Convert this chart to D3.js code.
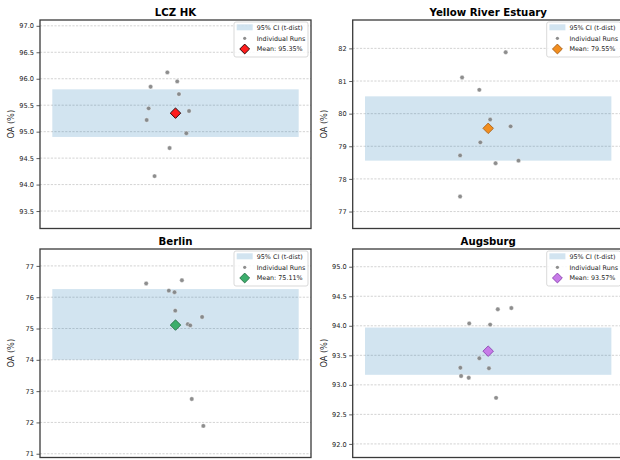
<!DOCTYPE html>
<html>
<head>
<meta charset="utf-8">
<script src="https://cdn.jsdelivr.net/npm/d3@7"></script>
<style>
  html, body { margin: 0; padding: 0; background: #ffffff; }
  svg { display: block; font-family: "DejaVu Sans", sans-serif; }
</style>
</head>
<body>
<svg id="chart" width="620" height="460"></svg>
<script>
// Overall accuracy of repeated runs per study region
const regions = ["LCZ HK", "Yellow River Estuary", "Berlin", "Augsburg"];

const runsLczHk   = [96.12, 95.95, 95.85, 95.71, 95.44, 95.39, 95.22, 94.97, 94.69, 94.16];
const runsYellow  = [81.88, 81.11, 80.73, 79.82, 79.61, 79.12, 78.72, 78.48, 78.56, 77.46];
const runsBerlin  = [76.44, 76.54, 76.21, 76.16, 75.57, 75.37, 75.14, 75.10, 72.75, 71.89];
const runsAugsburg = [94.30, 94.28, 94.04, 94.02, 93.45, 93.29, 93.28, 93.15, 93.12, 92.78];

// horizontal jitter applied to each run
const jitterLczHk   = [-0.033, 0.007, -0.101, 0.014, -0.109, 0.055, -0.117, 0.044, -0.024, -0.085];
const jitterYellow  = [0.071, -0.106, -0.036, 0.008, 0.091, -0.032, -0.114, 0.030, 0.123, -0.114];
const jitterBerlin  = [-0.119, 0.026, -0.027, -0.004, -0.001, 0.108, 0.050, 0.060, 0.066, 0.113];
const jitterAugsburg = [0.094, 0.039, -0.077, 0.008, -0.036, -0.113, 0.003, -0.110, -0.079, 0.032];

const means  = [95.35, 79.55, 75.11, 93.57];
const ciLow  = [94.90, 78.56, 74.00, 93.17];
const ciHigh = [95.80, 80.53, 76.26, 93.97];

const yDomains = [[93.17, 97.11], [76.48, 82.87], [70.88, 77.54], [91.77, 95.30]];
const yTicks = [
  [93.5, 94.0, 94.5, 95.0, 95.5, 96.0, 96.5, 97.0],
  [77, 78, 79, 80, 81, 82],
  [71, 72, 73, 74, 75, 76, 77],
  [92.0, 92.5, 93.0, 93.5, 94.0, 94.5, 95.0]
];
const yFormats = [".1f", "d", "d", ".1f"];

const meanFill   = ["#ff1c1c", "#f28e1f", "#3cae6c", "#c77be8"];
const meanStroke = ["#1a0000", "#a8611a", "#2a7048", "#8a44b0"];

const legendLabels = ["95% CI (t-dist)", "Individual Runs"];

const runs = [runsLczHk, runsYellow, runsBerlin, runsAugsburg];
const jitters = [jitterLczHk, jitterYellow, jitterBerlin, jitterAugsburg];

const xDomain = [-0.55, 0.55];
const bandSpan = [-0.5, 0.5];

const svg = d3.select("#chart");

const colLeft = [40, 352.7];
const rowTop = [20, 249];
const plotW = 271;
const plotH = 208.5;

const diamond = d3.symbol().type(d3.symbolDiamond2);

regions.forEach((name, i) => {
  const left = colLeft[i % 2];
  const top = rowTop[Math.floor(i / 2)];

  const x = d3.scaleLinear().domain(xDomain).range([0, plotW]);
  const y = d3.scaleLinear().domain(yDomains[i]).range([plotH, 0]);

  const g = svg.append("g").attr("transform", `translate(${left},${top})`);

  // dashed horizontal grid
  g.append("g")
    .selectAll("line")
    .data(yTicks[i])
    .join("line")
    .attr("x1", 0).attr("x2", plotW)
    .attr("y1", d => y(d)).attr("y2", d => y(d))
    .attr("stroke", "#c8c8c8")
    .attr("stroke-width", 0.8)
    .attr("stroke-dasharray", "2.2,1.4");

  // confidence band
  g.append("rect")
    .attr("x", x(bandSpan[0]))
    .attr("width", x(bandSpan[1]) - x(bandSpan[0]))
    .attr("y", y(ciHigh[i]))
    .attr("height", y(ciLow[i]) - y(ciHigh[i]))
    .attr("fill", "#1f77b4")
    .attr("fill-opacity", 0.2);

  // individual runs
  g.append("g")
    .selectAll("circle")
    .data(runs[i].map((v, k) => ({ v, j: jitters[i][k] })))
    .join("circle")
    .attr("cx", d => x(d.j))
    .attr("cy", d => y(d.v))
    .attr("r", 2.2)
    .attr("fill", "#7a7a7a")
    .attr("fill-opacity", 0.85)
    .attr("stroke", "#ffffff")
    .attr("stroke-opacity", 0.6)
    .attr("stroke-width", 0.6);

  // mean marker
  g.append("path")
    .attr("d", diamond.size(70)())
    .attr("transform", `translate(${x(0)},${y(means[i])}) rotate(0)`)
    .attr("fill", meanFill[i])
    .attr("stroke", meanStroke[i])
    .attr("stroke-width", 0.9);

  // y axis
  const yAxis = d3.axisLeft(y)
    .tickValues(yTicks[i])
    .tickFormat(d3.format(yFormats[i]))
    .tickSize(3.5)
    .tickPadding(2.5);
  const ya = g.append("g").call(yAxis);
  ya.select(".domain").remove();
  ya.selectAll(".tick line").attr("stroke", "#333").attr("stroke-width", 0.8);
  ya.selectAll(".tick text")
    .attr("fill", "#222")
    .style("font-size", "6.6px")
    .style("font-family", "DejaVu Sans, sans-serif");

  // frame
  g.append("rect")
    .attr("x", 0).attr("y", 0)
    .attr("width", plotW).attr("height", plotH)
    .attr("fill", "none")
    .attr("stroke", "#3a3a3a")
    .attr("stroke-width", 1.3);

  // title
  g.append("text")
    .attr("x", plotW / 2)
    .attr("y", -4.5)
    .attr("text-anchor", "middle")
    .style("font-size", "10.2px")
    .style("font-weight", "bold")
    .attr("fill", "#000")
    .text(name);

  // y label
  g.append("text")
    .attr("transform", `translate(${-28.5},${plotH / 2}) rotate(-90)`)
    .attr("text-anchor", "middle")
    .attr("dy", "0.35em")
    .style("font-size", "8.2px")
    .attr("fill", "#222")
    .text("OA (%)");

  // legend
  const lw = 74, lh = 35;
  const lg = g.append("g").attr("transform", `translate(${plotW - lw - 3},2)`);
  lg.append("rect")
    .attr("width", lw).attr("height", lh)
    .attr("rx", 2)
    .attr("fill", "#fff").attr("fill-opacity", 0.85)
    .attr("stroke", "#cfcfcf").attr("stroke-width", 0.8);
  const rowY = [5.3, 16.3, 27];
  lg.append("rect")
    .attr("x", 2.7).attr("y", rowY[0] - 3)
    .attr("width", 16).attr("height", 6)
    .attr("fill", "#1f77b4").attr("fill-opacity", 0.2);
  lg.append("circle")
    .attr("cx", 10.7).attr("cy", rowY[1])
    .attr("r", 1.6)
    .attr("fill", "#7a7a7a").attr("fill-opacity", 0.85);
  lg.append("path")
    .attr("d", diamond.size(62)())
    .attr("transform", `translate(10.7,${rowY[2]})`)
    .attr("fill", meanFill[i])
    .attr("stroke", meanStroke[i])
    .attr("stroke-width", 0.9);
  const labels = [legendLabels[0], legendLabels[1], `Mean: ${d3.format(".2f")(means[i])}%`];
  lg.selectAll("text.lbl")
    .data(labels)
    .join("text")
    .attr("class", "lbl")
    .attr("x", 22.7)
    .attr("y", (d, k) => rowY[k])
    .attr("dy", "0.35em")
    .style("font-size", "6.4px")
    .attr("fill", "#222")
    .text(d => d);
});
</script>
</body>
</html>
